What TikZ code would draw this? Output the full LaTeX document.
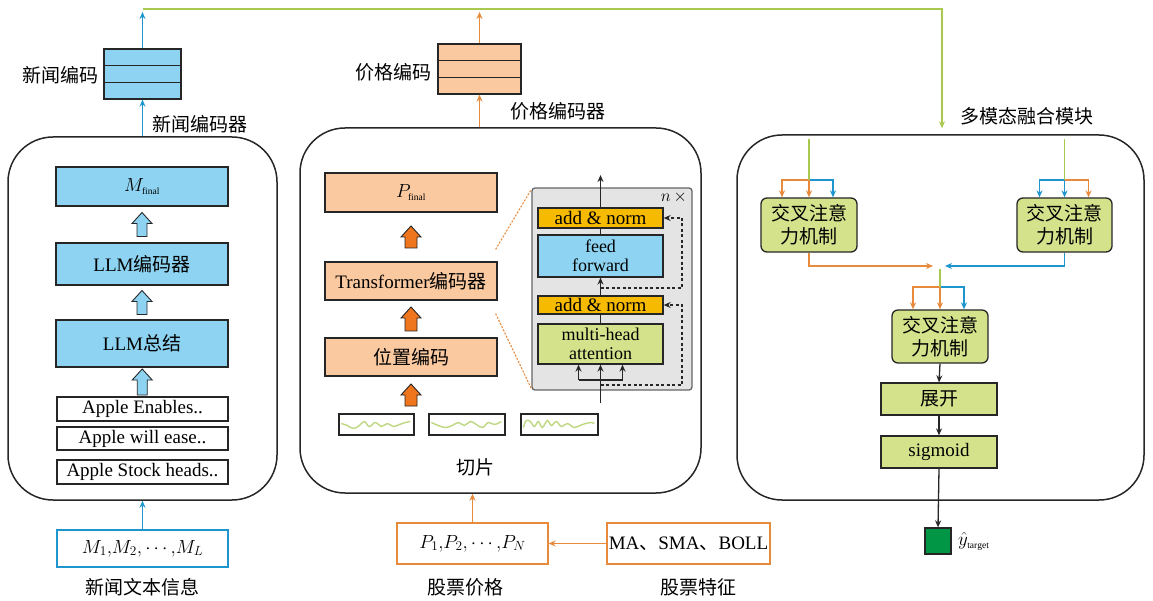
\RequirePackage{fix-cm}
\documentclass[tikz,border=0pt]{standalone}
\usepackage{fontspec}
\setmainfont{Liberation Serif}
\newfontfamily\cjk{Noto Sans CJK SC}
\usetikzlibrary{arrows.meta,calc}
\definecolor{nfill}{RGB}{142,212,242}
\definecolor{nline}{RGB}{30,150,205}
\definecolor{ofill}{RGB}{250,201,160}
\definecolor{oline}{RGB}{232,138,60}
\definecolor{oarrow}{RGB}{240,118,30}
\definecolor{gfill}{RGB}{212,226,140}
\definecolor{gline}{RGB}{168,200,80}
\definecolor{wline}{RGB}{190,216,130}
\definecolor{goldc}{RGB}{246,186,0}
\definecolor{grayb}{RGB}{228,228,228}
\definecolor{dgreen}{RGB}{0,150,70}
% block arrow between two nodes: lower anchor, upper anchor, fill, half length, half shaft width
\newcommand\blk[5]{\path[fill=#3,draw=black!85,line width=0.9pt] let \p1=($(#1)!0.5!(#2)$) in
 (\x1-#5pt,\y1-#4pt) -- (\x1+#5pt,\y1-#4pt) -- (\x1+#5pt,\y1+#4pt-11pt) -- (\x1+10pt,\y1+#4pt-11pt)
 -- (\x1,\y1+#4pt) -- (\x1-10pt,\y1+#4pt-11pt) -- (\x1-#5pt,\y1+#4pt-11pt) -- cycle;}
\begin{document}
\begin{tikzpicture}[x=1pt,y=-1pt,
 font=\fontsize{19}{21}\selectfont,
 panel/.style={draw=black!85,line width=1.5pt,rounded corners=45pt,inner sep=0pt},
 bx/.style={draw=black!85,line width=1.3pt,inner sep=0pt,align=center},
 nb/.style={bx,fill=nfill},
 ob/.style={bx,fill=ofill},
 gb/.style={bx,fill=gfill},
 kb/.style={bx,fill=goldc},
 wb/.style={bx,fill=white},
 cb/.style={gb,rounded corners=6pt},
 cjkf/.style={font=\fontsize{19}{23}\selectfont\cjk},
 lbl/.style={inner sep=0pt,font=\fontsize{19}{21}\selectfont\cjk},
 arr/.style={-{Stealth[length=7pt,width=6pt]}},
 bl/.style={draw=nline,line width=1.6pt},
 ol/.style={draw=oline,line width=1.6pt},
 gl/.style={draw=gline,line width=1.6pt},
 kl/.style={draw=black!85,line width=1.3pt},
 wv/.style={draw=wline,line width=1.4pt},
]
\useasboundingbox[fill=white] (0,0) rectangle (1153,601);

% ---------- top connectors ----------
\coordinate (ntop) at (142.5,12);
\coordinate (gstart) at (143,9);
\coordinate (gcorner) at (942,9);

% ---------- left panel ----------
\node[panel,minimum width=269pt,minimum height=363pt] (lp) at (142.5,318.5) {};
\node[nb,minimum width=77pt,minimum height=50pt] (nenc) at (142.5,74) {};
\draw[kl] ($(nenc.north west)!1/3!(nenc.south west)$) -- ($(nenc.north east)!1/3!(nenc.south east)$);
\draw[kl] ($(nenc.north west)!2/3!(nenc.south west)$) -- ($(nenc.north east)!2/3!(nenc.south east)$);
\node[lbl,anchor=east] (nencl) at (99,75) {新闻编码};
\node[lbl,anchor=west] (lpl) at (152,124) {新闻编码器};
\node[nb,minimum width=172pt,minimum height=39pt] (mf) at (142,186.5) {$M_{\scriptscriptstyle\mathrm{final}}$};
\node[nb,minimum width=172pt,minimum height=42pt] (llme) at (142,264) {LLM{\cjk 编码器}};
\node[nb,minimum width=172pt,minimum height=47pt] (llms) at (142,343.5) {LLM{\cjk 总结}};
\node[wb,minimum width=171pt,minimum height=24pt] (a1) at (142.5,409) {Apple Enables..};
\node[wb,minimum width=171pt,minimum height=23pt] (a2) at (142.5,438.5) {Apple will ease..};
\node[wb,minimum width=171pt,minimum height=24pt] (a3) at (142.5,472) {Apple Stock heads..};
\node[wb,draw=nline,minimum width=171pt,minimum height=37pt] (mb) at (142.5,548.5) {$M_1{,}M_2{,}\cdots{,}M_L$};
\node[lbl] (mbl) at (142.5,587) {新闻文本信息};
\blk{llme.north}{mf.south}{nfill}{12}{5}
\blk{llms.north}{llme.south}{nfill}{12}{5}
\blk{a1.north}{llms.south}{nfill}{13}{5}
\draw[bl,arr] (mb.north) -- (lp.south);
\draw[bl,arr] (lp.north) -- (nenc.south);
\draw[bl,arr] (nenc.north) -- (ntop);

% ---------- middle panel ----------
\node[panel,minimum width=401pt,minimum height=365pt] (mp) at (500.5,310.5) {};
\node[ob,minimum width=83pt,minimum height=50pt] (penc) at (479.5,69) {};
\draw[kl] ($(penc.north west)!1/3!(penc.south west)$) -- ($(penc.north east)!1/3!(penc.south east)$);
\draw[kl] ($(penc.north west)!2/3!(penc.south west)$) -- ($(penc.north east)!2/3!(penc.south east)$);
\node[lbl,anchor=east] (pencl) at (432,72) {价格编码};
\node[lbl,anchor=west] (mpl) at (510,111) {价格编码器};
\draw[ol,arr] (mp.north -| penc.south) -- (penc.south);
\draw[ol,arr] (penc.north) -- (penc.north |- ntop);

\node[ob,minimum width=172pt,minimum height=39pt] (pf) at (411,192.5) {$P_{\scriptscriptstyle\mathrm{final}}$};
\node[ob,minimum width=172pt,minimum height=38pt] (tr) at (411,281) {Transformer{\cjk 编码器}};
\node[ob,minimum width=172pt,minimum height=38pt] (pos) at (411,357) {\cjk 位置编码};
\node[wb,minimum width=75pt,minimum height=21pt] (s1) at (376.5,424.5) {};
\node[wb,minimum width=76pt,minimum height=21pt] (s2) at (467,424.5) {};
\node[wb,minimum width=77pt,minimum height=21pt] (s3) at (559.5,424.5) {};
\coordinate (sltop) at (pos.south |- s1.north);
\node[lbl] (sll) at (475,467) {切片};
\blk{tr.north}{pf.south}{oarrow}{11}{6}
\blk{pos.north}{tr.south}{oarrow}{12}{6}
\blk{sltop}{pos.south}{oarrow}{11}{6}
\begin{scope}[shift={(s1.west)}]
\draw[wv] plot[smooth,tension=0.7] coordinates {(3,-1)(9,1)(15,4)(21,1)(26,-3)(31,2)(37,-2)(43,2)(49,-1)(55,2)(61,0)(67,-2)(72,-3)};
\end{scope}
\begin{scope}[shift={(s2.west)}]
\draw[wv] plot[smooth,tension=0.7] coordinates {(3,-2)(10,1)(17,3)(24,1)(30,-2)(36,1)(42,-3)(48,0)(54,3)(60,-2)(66,0)(73,-3)};
\end{scope}
\begin{scope}[shift={(s3.west)}]
\draw[wv] plot[smooth,tension=0.6] coordinates {(3,3)(6,-4)(10,-3)(14,2)(18,-3)(22,3)(27,-4)(31,1)(36,-3)(41,2)(47,-1)(54,3)(62,0)(70,-2)(74,-1)};
\end{scope}

% transformer detail
\node[fill=grayb,draw=black!60,line width=1.3pt,rounded corners=3pt,minimum width=160pt,minimum height=202pt] (tb) at (612,289) {};
\node[anchor=north east,inner sep=1pt,font=\fontsize{17}{19}\selectfont] (nx) at (688,190) {$n\,{\times}$};
\node[kb,minimum width=125pt,minimum height=20pt] (an1) at (600.5,218) {add \& norm};
\node[nb,minimum width=125pt,minimum height=42pt,font=\fontsize{18}{19}\selectfont] (ff) at (600.5,256) {feed\\forward};
\node[kb,minimum width=125pt,minimum height=18pt] (an2) at (600.5,305) {add \& norm};
\node[gb,minimum width=125pt,minimum height=40pt,font=\fontsize{18}{19}\selectfont] (mha) at (600.5,344) {multi-head\\attention};
\coordinate (tin) at (600.5,403);
\coordinate (tsplit) at (600.5,380);
\coordinate (tout) at (600.5,175);
\draw[kl] (tin) -- (tsplit);
\draw[kl] ($(tsplit)+(-22,0)$) -- ($(tsplit)+(22,0)$);
\foreach \d in {-22,0,22} \draw[kl,arr] ($(tsplit)+(\d,0)$) -- ($(mha.south)+(\d,0)$);
\draw[kl] (mha.north) -- (an2.south);
\draw[kl,arr] (an2.north) -- (ff.south);
\draw[kl] (ff.north) -- (an1.south);
\draw[kl,arr] (an1.north) -- (tout);
\coordinate (r1) at (600.5,385);
\coordinate (r2) at (600.5,288);
\draw[kl,dash pattern=on 3pt off 2.5pt,arr] (r1) -- (682,385) -- (682,305) -- (an2.east);
\draw[kl,dash pattern=on 3pt off 2.5pt,arr] (r2) -- (682,288) -- (682,218) -- (an1.east);
\draw[ol,line width=1.1pt,dash pattern=on 2pt off 1.5pt] ($(tr.north east)+(-2,-12)$) -- ($(tb.north west)+(0,2)$);
\draw[ol,line width=1.1pt,dash pattern=on 2pt off 1.5pt] ($(tr.south east)+(-2,13)$) -- ($(tb.south west)+(0,-2)$);

% bottom inputs
\node[wb,draw=oline,minimum width=151pt,minimum height=41pt] (pn) at (472.5,543.5) {$P_1{,}P_2{,}\cdots{,}P_N$};
\node[wb,draw=oline,minimum width=163pt,minimum height=41pt] (ma) at (688.5,543.5) {MA{\cjk 、}SMA{\cjk 、}BOLL};
\node[lbl] (pnl) at (465,587) {股票价格};
\node[lbl] (mal) at (698,587) {股票特征};
\draw[ol,arr] (ma.west) -- (pn.east);
\draw[ol,arr] (pn.north) -- (pn.north |- mp.south);

% ---------- right panel ----------
\node[panel,minimum width=407pt,minimum height=365pt] (rp) at (940.5,317.5) {};
\node[lbl,anchor=west] (rpl) at (960,116) {多模态融合模块};
\draw[gl,arr] (gstart) -- (gcorner) -- ($(gcorner |- rp.north)+(0,-6)$);

\node[cb,cjkf,minimum width=96pt,minimum height=54pt] (cal) at (809,225) {交叉注意\\力机制};
\node[cb,cjkf,minimum width=95pt,minimum height=54pt] (car) at (1064.5,225) {交叉注意\\力机制};
\node[cb,cjkf,minimum width=96pt,minimum height=53pt] (cam) at (940,336.5) {交叉注意\\力机制};
\node[gb,cjkf,minimum width=116pt,minimum height=32pt] (unf) at (939,399) {展开};
\node[gb,minimum width=116pt,minimum height=32pt] (sig) at (939,452) {sigmoid};
\node[draw=black!85,line width=1.3pt,fill=dgreen,minimum width=26pt,minimum height=26pt,inner sep=0pt] (out) at (938,541) {};
\node[anchor=west,inner sep=0pt] (outl) at (958,541) {$\hat{y}_{\scriptscriptstyle\mathrm{target}}$};

\coordinate (inl) at (809,139);
\coordinate (brl) at (809,180);
\draw[ol,arr] (brl) -| ($(cal.north)+(-27,0)$);
\draw[bl,arr] (brl) -| ($(cal.north)+(24,0)$);
\draw[gl] (inl) -- (brl);
\draw[ol,arr] (brl) -- (cal.north);

\coordinate (inr) at (1064.5,139);
\coordinate (brr) at (1064.5,180);
\draw[bl,arr] (brr) -| ($(car.north)+(-25,0)$);
\draw[ol,arr] (brr) -| ($(car.north)+(24,0)$);
\draw[gl] (inr) -- (brr);
\draw[bl,arr] (brr) -- (car.north);

\coordinate (mrg) at (940,266);
\coordinate (brm) at (940,287);
\draw[ol,arr] (cal.south) |- ($(mrg)+(-7,0)$);
\draw[bl,arr] (car.south) |- ($(mrg)+(5,0)$);
\draw[ol,arr] (brm) -| ($(cam.north)+(-27,0)$);
\draw[bl,arr] (brm) -| ($(cam.north)+(24,0)$);
\draw[gl] ($(mrg)+(0,3)$) -- (brm);
\draw[ol,arr] (brm) -- (cam.north);
\draw[kl,arr] (cam.south) -- (unf.north);
\draw[kl,arr] (unf.south) -- (sig.north);
\draw[kl,arr] (sig.south) -- (out.north);
\end{tikzpicture}
\end{document}
